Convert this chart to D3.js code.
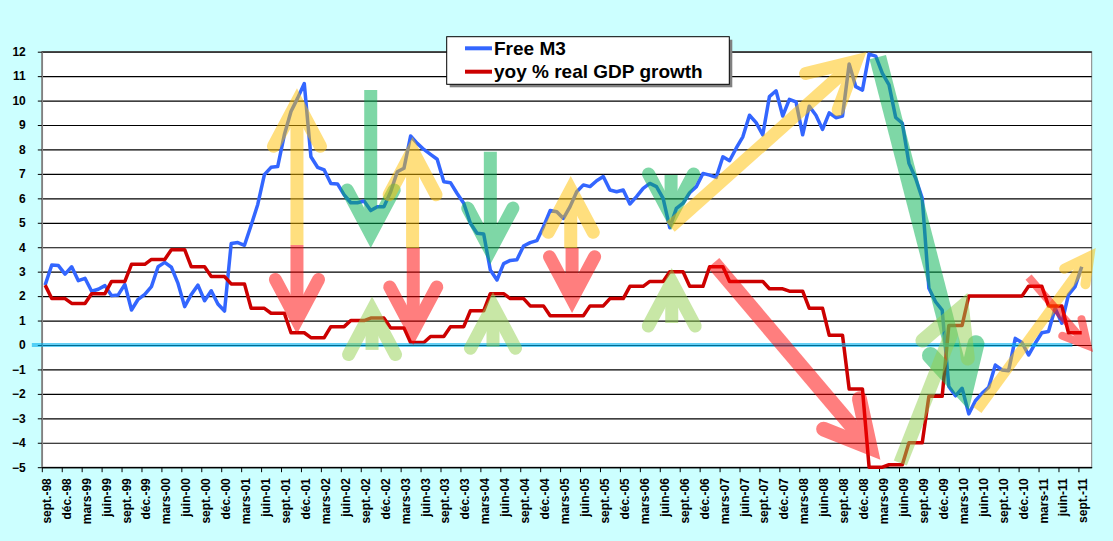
<!DOCTYPE html>
<html>
<head>
<meta charset="utf-8">
<script src="https://cdn.jsdelivr.net/npm/d3@7"></script>
<style>
html,body{margin:0;padding:0;background:#CCFFFF;}
svg{display:block;}
text{font-family:Arial,"Liberation Sans",sans-serif;font-weight:bold;fill:#000;}
</style>
</head>
<body>
<div id="chart"></div>
<script>
//Set Height and Width Vars;
const w=1113;
const h=541;
const plotLeft=41.8, plotRight=1091.7, plotTop=51.7, plotBottom=467.2;

//Months on the date axis (sept.-98 .. oct.-11);
const nMonths=158;

//Free M3, monthly from sept.-98 to sept.-11;
const freeM3=[2.45,3.27,3.25,2.9,3.2,2.63,2.73,2.2,2.28,2.43,
  2.02,2.05,2.48,1.43,1.87,2.07,2.39,3.2,3.38,3.18,
  2.52,1.57,2.07,2.45,1.81,2.22,1.68,1.39,4.15,4.19,
  4.08,4.9,5.75,6.97,7.27,7.3,8.6,9.55,10.1,10.7,
  7.7,7.27,7.16,6.61,6.59,6.14,5.82,5.82,5.89,5.5,
  5.66,5.66,6.27,7.09,7.23,8.55,8.25,8.0,7.8,7.6,
  6.68,6.64,6.2,5.8,4.98,4.57,4.54,3.07,2.66,3.33,
  3.46,3.49,4.05,4.19,4.27,4.84,5.5,5.45,5.18,5.66,
  6.27,6.55,6.48,6.72,6.89,6.34,6.27,6.34,5.77,6.07,
  6.41,6.61,6.48,6.0,4.8,5.59,5.8,6.23,6.48,7.02,
  6.95,6.86,7.7,7.54,8.05,8.52,9.4,9.1,8.6,10.16,
  10.4,9.37,10.05,9.95,8.6,9.77,9.4,8.82,9.5,9.3,
  9.37,11.5,10.57,10.43,11.9,11.82,11.11,10.64,9.31,9.07,
  7.43,6.82,6.0,2.32,1.77,1.43,-1.7,-2.08,-1.77,-2.82,
  -2.28,-1.98,-1.73,-0.82,-1.02,-1.05,0.27,0.1,-0.41,0.07,
  0.5,0.55,1.5,0.89,2.05,2.39,3.2];

//yoy % real GDP growth: sept.-98, then one value per quarter (Q4-98 .. Q3-11);
const gdpFirst=2.45;
const gdpQuarterly=[1.9,1.7,2.1,2.6,3.3,3.5,3.9,3.2,2.8,2.5,
  1.5,1.3,0.5,0.3,0.75,1.0,1.1,0.7,0.1,0.35,
  0.75,1.4,2.1,1.9,1.6,1.2,1.2,1.6,1.9,2.4,
  2.6,3.0,2.4,3.2,2.6,2.6,2.3,2.2,1.5,0.4,
  -1.8,-5.0,-4.9,-4.0,-2.1,0.8,2.0,2.0,2.0,2.4,
  1.6,0.5];

//Tick labels, one per quarter;
const tickLabels=["sept.-98","déc.-98","mars-99","juin-99","sept.-99","déc.-99","mars-00","juin-00",
  "sept.-00","déc.-00","mars-01","juin-01","sept.-01","déc.-01","mars-02","juin-02","sept.-02","déc.-02",
  "mars-03","juin-03","sept.-03","déc.-03","mars-04","juin-04","sept.-04","déc.-04","mars-05","juin-05",
  "sept.-05","déc.-05","mars-06","juin-06","sept.-06","déc.-06","mars-07","juin-07","sept.-07","déc.-07",
  "mars-08","juin-08","sept.-08","déc.-08","mars-09","juin-09","sept.-09","déc.-09","mars-10","juin-10",
  "sept.-10","déc.-10","mars-11","juin-11","sept.-11"];
const yTicks=d3.range(-5,13);

//Series names;
const seriesNames=["Free M3","yoy % real GDP growth"];

//Hand drawn arrows, in (month index, value);
const arrowFrom=[[37.9,4.09],[37.9,4.09],[49.0,10.43],[49.2,-0.2],[55.3,3.97],[55.4,3.97],
  [67.0,7.91],[67.4,-0.07],[79.1,3.97],[79.3,3.97],[94.2,6.96],[94.3,0.9],
  [94.1,4.83],[100.6,3.36],[125.3,11.78],[128.7,-4.83],[140.3,-2.66],[148.0,2.78]];
const arrowTo=[[37.9,10.5],[37.9,0.45],[49.0,3.97],[49.2,1.98],[55.3,8.52],[55.4,0.0],
  [67.0,3.3],[67.4,2.17],[79.1,6.91],[79.3,1.31],[94.2,4.7],[94.3,3.15],
  [123.6,11.99],[125.7,-4.7],[139.0,-2.66],[138.8,2.13],[158.1,3.97],[157.7,-0.29]];
const arrowKind=["y","r","g","l","y","r","g","l","y","r","g","l","y","r","g","l","y","r"];
const arrowColors={y:"#FFC000",r:"#FF0000",g:"#00B050",l:"#92D050"};
const arrowWidth=[13,13,13,13,13,13,13,13,13,13,13,13,13,15,17,14,10,8];
const arrowArm=[50,46,50,50,50,50,48,48,48,48,48,50,52,50,50,52,28,27];

//Build monthly tables;
const m3Data=freeM3.map(function(v,i){return {i:i,v:v};});
let gdpMonthly=[gdpFirst];
gdpQuarterly.forEach(function(v){gdpMonthly.push(v,v,v);});
const gdpData=gdpMonthly.map(function(v,i){return {i:i,v:v};});

//Initialize SVG;
const svg=d3.select("#chart")
  .append("svg")
    .attr("width",w)
    .attr("height",h);

svg.append("rect")
   .attr("width",w).attr("height",h)
   .attr("fill","#CCFFFF");

//Scales;
const xScale=d3.scaleLinear().domain([0,nMonths]).range([plotLeft,plotRight]);
const yScale=d3.scaleLinear().domain([-5,12]).range([plotBottom,plotTop]);

//Plot Area;
svg.append("rect")
   .attr("x",plotLeft).attr("y",plotTop)
   .attr("width",plotRight-plotLeft).attr("height",plotBottom-plotTop)
   .attr("fill","#fff")
   .attr("stroke","#808080");

//Gridlines;
const grid=svg.append("g")
   .attr("transform","translate("+plotLeft+",0)")
   .call(d3.axisLeft(yScale).tickValues(yTicks).tickSize(-(plotRight-plotLeft)).tickFormat(""));
grid.select(".domain").remove();
grid.selectAll("line").attr("stroke","#000").attr("stroke-width",1.2);

//Y Axis;
const yAxis=svg.append("g")
   .attr("transform","translate("+plotLeft+",0)")
   .call(d3.axisLeft(yScale).tickValues(yTicks).tickSize(4).tickPadding(12).tickSizeOuter(0));
yAxis.select(".domain").attr("stroke","#808080").attr("stroke-width",1.5);
yAxis.selectAll("line").attr("stroke","#000");
yAxis.selectAll("text").attr("font-size","12px").attr("font-family",null);

//X Axis;
const quarterTicks=tickLabels.map(function(d,i){return i*3;});
const xAxis=svg.append("g")
   .attr("transform","translate(0,"+plotBottom+")")
   .call(d3.axisBottom(xScale)
     .tickValues(quarterTicks)
     .tickSize(5)
     .tickSizeOuter(0)
     .tickFormat(function(d,i){return tickLabels[i];}));
xAxis.select(".domain").attr("stroke","#000").attr("stroke-width",1.2);
xAxis.selectAll("line").attr("stroke","#000");
xAxis.selectAll("text")
   .attr("font-size","12px")
   .attr("font-family",null)
   .attr("x",0).attr("y",0).attr("dy",0)
   .attr("text-anchor","end")
   .attr("transform","translate(8.5,11) rotate(-90)");

//Lines;
const line=d3.line()
   .x(function(d){return xScale(d.i+0.5);})
   .y(function(d){return yScale(d.v);});

svg.append("path")
   .datum(m3Data)
   .attr("d",line)
   .attr("fill","none")
   .attr("stroke","#3366FF")
   .attr("stroke-width",3.5)
   .attr("stroke-linejoin","round");

svg.append("path")
   .datum(gdpData)
   .attr("d",line)
   .attr("fill","none")
   .attr("stroke","#CC0000")
   .attr("stroke-width",3.5)
   .attr("stroke-linejoin","round");

//Zero line;
svg.append("line")
   .attr("x1",xScale(-1.5)).attr("x2",xScale(155.1))
   .attr("y1",yScale(0)).attr("y2",yScale(0))
   .attr("stroke","#00B0F0")
   .attr("stroke-opacity",0.6)
   .attr("stroke-width",4);

//Arrows;
const arrowG=svg.append("g");
const t=28*Math.PI/180;
arrowFrom.forEach(function(f,k){
  const x0=xScale(f[0]+0.5), y0=yScale(f[1]);
  const x1=xScale(arrowTo[k][0]+0.5), y1=yScale(arrowTo[k][1]);
  const len=Math.hypot(x1-x0,y1-y0);
  const ux=(x1-x0)/len, uy=(y1-y0)/len;
  const back=(arrowWidth[k]/2)/Math.sin(t);
  const vx=x1-ux*back, vy=y1-uy*back;
  const ang=Math.atan2(-uy,-ux);
  const a=arrowArm[k];
  const p1=[vx+a*Math.cos(ang+t), vy+a*Math.sin(ang+t)];
  const p2=[vx+a*Math.cos(ang-t), vy+a*Math.sin(ang-t)];
  const col=arrowColors[arrowKind[k]];
  const g=arrowG.append("g").attr("opacity",0.5);
  g.append("line")
   .attr("x1",x0).attr("y1",y0).attr("x2",vx).attr("y2",vy)
   .attr("stroke",col).attr("stroke-width",arrowWidth[k]);
  g.append("path")
   .attr("d",d3.line()([p1,[vx,vy],p2]))
   .attr("fill","none")
   .attr("stroke",col).attr("stroke-width",arrowWidth[k])
   .attr("stroke-linecap","round")
   .attr("stroke-linejoin","miter");
});

//Legend;
const legend=svg.append("g");
legend.append("rect")
   .attr("x",449.7).attr("y",39.7).attr("width",282.6).attr("height",47.6)
   .attr("fill","#808080");
legend.append("rect")
   .attr("x",446.7).attr("y",36.7).attr("width",282.6).attr("height",47.6)
   .attr("fill","#fff").attr("stroke","#000");
const legColors=["#3366FF","#CC0000"];
seriesNames.forEach(function(n,k){
  const ly=48.3+k*23.4;
  legend.append("line")
   .attr("x1",465).attr("x2",492).attr("y1",ly).attr("y2",ly)
   .attr("stroke",legColors[k]).attr("stroke-width",4);
  legend.append("text")
   .attr("x",494).attr("y",ly+6.5)
   .attr("font-size","19px")
   .text(n);
});
</script>
</body>
</html>
